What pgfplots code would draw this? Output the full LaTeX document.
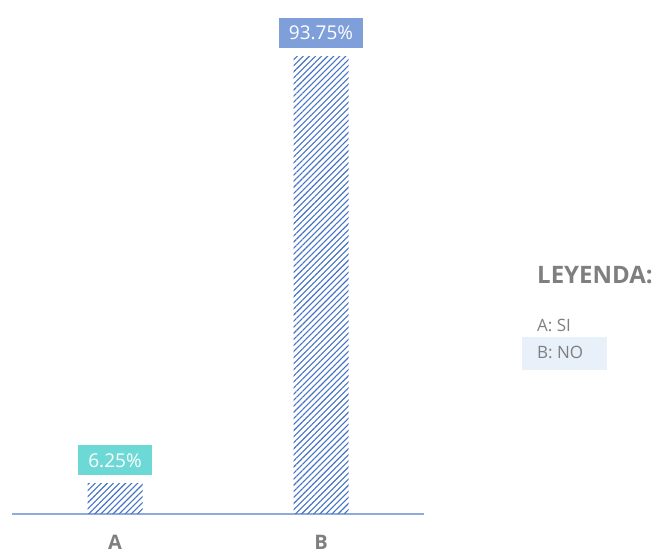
\documentclass[border=0pt]{standalone}
\usepackage{pgfplots}
\pgfplotsset{compat=1.18}
\usepackage{fontspec}
\setmainfont{Open Sans}
\usetikzlibrary{patterns.meta}
\definecolor{hatch}{HTML}{4472C4}
\definecolor{axisline}{HTML}{8FAADC}
\definecolor{tealbox}{HTML}{6DD9D6}
\definecolor{bluebox}{HTML}{7F9FDB}
\definecolor{txtgray}{HTML}{7F7F7F}
\definecolor{legbox}{HTML}{E8F0FA}
\begin{document}
\begin{tikzpicture}[x=1pt,y=1pt]
\path[use as bounding box] (0,0) rectangle (656,554);
\begin{axis}[
  at={(12pt,40pt)}, anchor=south west,
  scale only axis, width=412pt, height=487.5pt,
  xmin=-0.5, xmax=1.5, ymin=0, ymax=100,
  axis y line=none,
  axis x line=bottom,
  every outer x axis line/.append style={-, axisline, line width=1.2pt},
  x axis line style={-, axisline, line width=1.2pt},
  xtick={0,1}, xticklabels={A,B},
  major tick length=0pt,
  xticklabel style={font=\fontsize{20}{24}\selectfont\bfseries, text=txtgray, yshift=-18pt},
  clip=false,
  /pgf/number format/assume math mode=true,
  nodes near coords={\pgfmathprintnumber[fixed,fixed zerofill,precision=2,assume math mode=true]{\pgfplotspointmeta}\%},
]
\addplot[ybar, bar width=55pt, bar shift=0pt, draw=none,
  pattern={Lines[angle=45, distance=4.3pt, line width=1.1pt]}, pattern color=hatch,
  nodes near coords style={anchor=south, yshift=8pt, fill=tealbox, text=white,
    font=\fontsize{19}{22}\selectfont, inner xsep=10pt, inner ysep=0pt, minimum height=30pt}]
  coordinates {(0,6.25)};
\addplot[ybar, bar width=55pt, bar shift=0pt, draw=none,
  pattern={Lines[angle=45, distance=4.3pt, line width=1.1pt]}, pattern color=hatch,
  nodes near coords style={anchor=south, yshift=9pt, fill=bluebox, text=white,
    font=\fontsize{19}{22}\selectfont, inner xsep=10pt, inner ysep=0pt, minimum height=30pt}]
  coordinates {(1,93.75)};
\end{axis}
\fill[legbox] (522,184) rectangle (607,217);
\node[anchor=west, inner sep=0pt, text=txtgray, font=\fontsize{24}{28}\selectfont\bfseries] at (537,279) {LEYENDA:};
\node[anchor=west, inner sep=0pt, text=txtgray, font=\fontsize{17}{20}\selectfont] at (537,229) {A: SI};
\node[anchor=west, inner sep=0pt, text=txtgray, font=\fontsize{17}{20}\selectfont] at (537,202) {B: NO};
\end{tikzpicture}
\end{document}
